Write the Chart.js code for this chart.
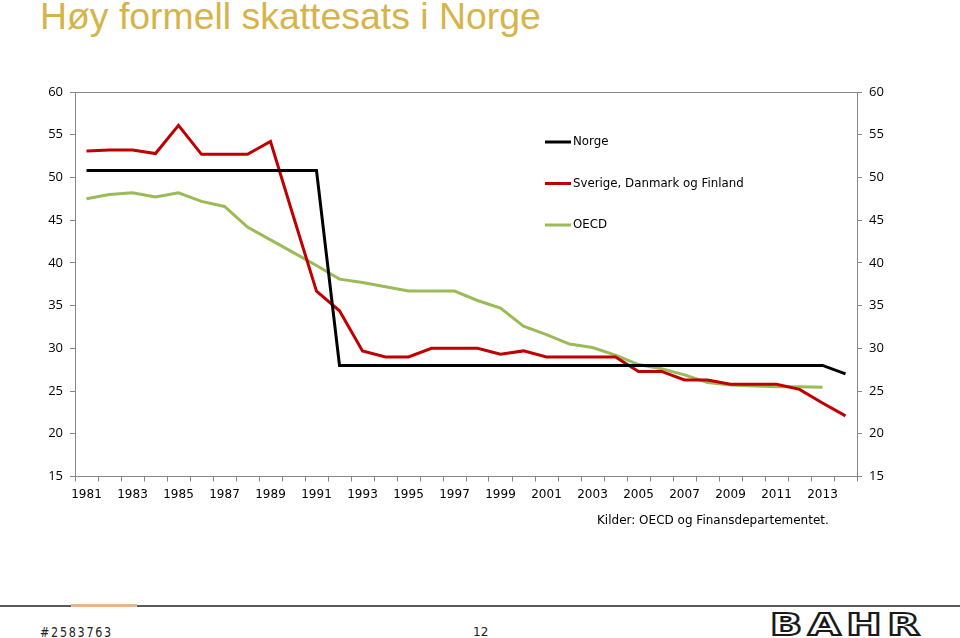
<!DOCTYPE html>
<html>
<head>
<meta charset="utf-8">
<script src="https://cdn.jsdelivr.net/npm/chart.js@4"></script>
<style>
  html,body{margin:0;padding:0;background:#fff;}
  body{width:960px;height:638px;position:relative;overflow:hidden;}
  #title{position:absolute;left:40px;top:-2px;font-family:"Liberation Sans",Arial,sans-serif;font-size:37.4px;line-height:37px;color:#D6B44C;white-space:nowrap;}
  #chart{position:absolute;left:0;top:0;}
  #source{position:absolute;left:597px;top:513px;font-family:"DejaVu Sans",sans-serif;font-size:12px;color:#000;white-space:nowrap;}
  #rule{position:absolute;left:0;top:605px;width:960px;height:2px;background:#5a5a5a;}
  #accent{position:absolute;left:71px;top:604px;width:66px;height:3px;background:#E9B58F;}
  #docid{position:absolute;left:40px;top:624px;font-family:"DejaVu Sans",sans-serif;font-size:13px;color:#222;white-space:nowrap;transform:scaleX(0.86) scaleY(1.05);transform-origin:left top;letter-spacing:2px;}
  #page{position:absolute;left:473px;top:625px;font-family:"DejaVu Sans",sans-serif;font-size:12px;color:#222;}
  #logo{position:absolute;left:770px;top:608px;font-family:"DejaVu Sans",sans-serif;font-size:30px;line-height:34px;font-weight:bold;letter-spacing:4px;color:#fff;-webkit-text-stroke:2px #1a1a1a;transform:scaleX(1.41);transform-origin:left top;white-space:nowrap;}
</style>
</head>
<body>
<div id="title">Høy formell skattesats i Norge</div>
<canvas id="chart" width="960" height="520"></canvas>
<div id="source">Kilder: OECD og Finansdepartementet.</div>
<div id="rule"></div>
<div id="accent"></div>
<div id="docid">#2583763</div>
<div id="page">12</div>
<div id="logo">BAHR</div>
<script>
const years = ["1981","1982","1983","1984","1985","1986","1987","1988","1989","1990",
  "1991","1992","1993","1994","1995","1996","1997","1998","1999","2000",
  "2001","2002","2003","2004","2005","2006","2007","2008","2009","2010",
  "2011","2012","2013","2014"];

const norge = [50.8,50.8,50.8,50.8,50.8,50.8,50.8,50.8,50.8,50.8,
  50.8,28,28,28,28,28,28,28,28,28,
  28,28,28,28,28,28,28,28,28,28,
  28,28,28,27];

const nordiske = [53.1,53.2,53.2,52.8,56.1,52.7,52.7,52.7,54.2,45.4,
  36.7,34.4,29.7,29.0,29.0,30.0,30.0,30.0,29.3,29.7,
  29.0,29.0,29.0,29.0,27.3,27.3,26.3,26.3,25.8,25.8,
  25.8,25.2,23.6,22.1];

const oecd = [47.5,48.0,48.2,47.7,48.2,47.2,46.6,44.2,42.7,41.2,
  39.7,38.1,37.7,37.2,36.7,36.7,36.7,35.6,34.7,32.6,
  31.6,30.5,30.1,29.2,28.1,27.6,26.9,26.0,25.7,25.6,
  25.5,25.5,25.45,null];

const seriesNames = ["Norge","Sverige, Danmark og Finland","OECD"];
const seriesColors = ["#000000","#C00000","#9BBB59"];
const yMin = 15, yMax = 60, yStep = 5;

const axisColor = "#868686";

const frameAndLegend = {
  id: "frameAndLegend",
  beforeDatasetsDraw(chart){
    const {ctx, chartArea:a} = chart;
    ctx.save();
    ctx.strokeStyle = axisColor;
    ctx.lineWidth = 1;
    ctx.beginPath();
    ctx.moveTo(a.left, a.top + 0.5);
    ctx.lineTo(a.right, a.top + 0.5);
    ctx.stroke();
    ctx.restore();
  },
  afterDraw(chart){
    const {ctx, chartArea:a} = chart;
    ctx.save();
    ctx.font = "11.8px 'DejaVu Sans', sans-serif";
    ctx.textBaseline = "middle";
    chart.data.datasets.forEach((ds, i) => {
      const y = a.top + 50 + i * 41.5;
      const x0 = 545;
      ctx.strokeStyle = ds.borderColor;
      ctx.lineWidth = 3;
      ctx.beginPath();
      ctx.moveTo(x0, y);
      ctx.lineTo(x0 + 26, y);
      ctx.stroke();
      ctx.fillStyle = "#000";
      ctx.fillText(ds.label, x0 + 28, y);
    });
    ctx.restore();
  }
};

new Chart(document.getElementById("chart"), {
  type: "line",
  data: {
    labels: years,
    datasets: [
      {label: seriesNames[0], data: norge, borderColor: seriesColors[0]},
      {label: seriesNames[1], data: nordiske, borderColor: seriesColors[1]},
      {label: seriesNames[2], data: oecd, borderColor: seriesColors[2]}
    ].map(d => Object.assign(d, {borderWidth: 3, pointRadius: 0, tension: 0, fill: false, spanGaps: false}))
  },
  options: {
    responsive: false,
    devicePixelRatio: 1,
    animation: false,
    layout: {padding: {top: 92, left: 0, right: 0, bottom: 0}},
    plugins: {legend: {display: false}, tooltip: {enabled: false}},
    scales: {
      x: {
        type: "category",
        offset: true,
        grid: {drawOnChartArea: false, drawTicks: true, tickLength: 5, color: axisColor, offset: true},
        border: {color: axisColor, width: 1},
        ticks: {
          autoSkip: false, maxRotation: 0, padding: 6, color: "#000",
          font: {family: "'DejaVu Sans', sans-serif", size: 12},
          callback: function(v, i){ return i % 2 === 0 ? this.getLabelForValue(v) : ""; }
        },
        afterFit(s){ s.height = 43.5; }
      },
      y: {
        position: "left", min: yMin, max: yMax,
        grid: {drawOnChartArea: false, drawTicks: true, tickLength: 5, color: axisColor},
        border: {color: axisColor, width: 1},
        ticks: {stepSize: yStep, padding: 7, color: "#000", font: {family: "'Open Sans', sans-serif", size: 13}},
        afterFit(s){ s.width = 75; }
      },
      y2: {
        position: "right", min: yMin, max: yMax,
        grid: {drawOnChartArea: false, drawTicks: true, tickLength: 5, color: axisColor},
        border: {color: axisColor, width: 1},
        ticks: {stepSize: yStep, padding: 7, color: "#000", font: {family: "'Open Sans', sans-serif", size: 13}},
        afterFit(s){ s.width = 103; }
      }
    }
  },
  plugins: [frameAndLegend]
});
</script>
</body>
</html>
